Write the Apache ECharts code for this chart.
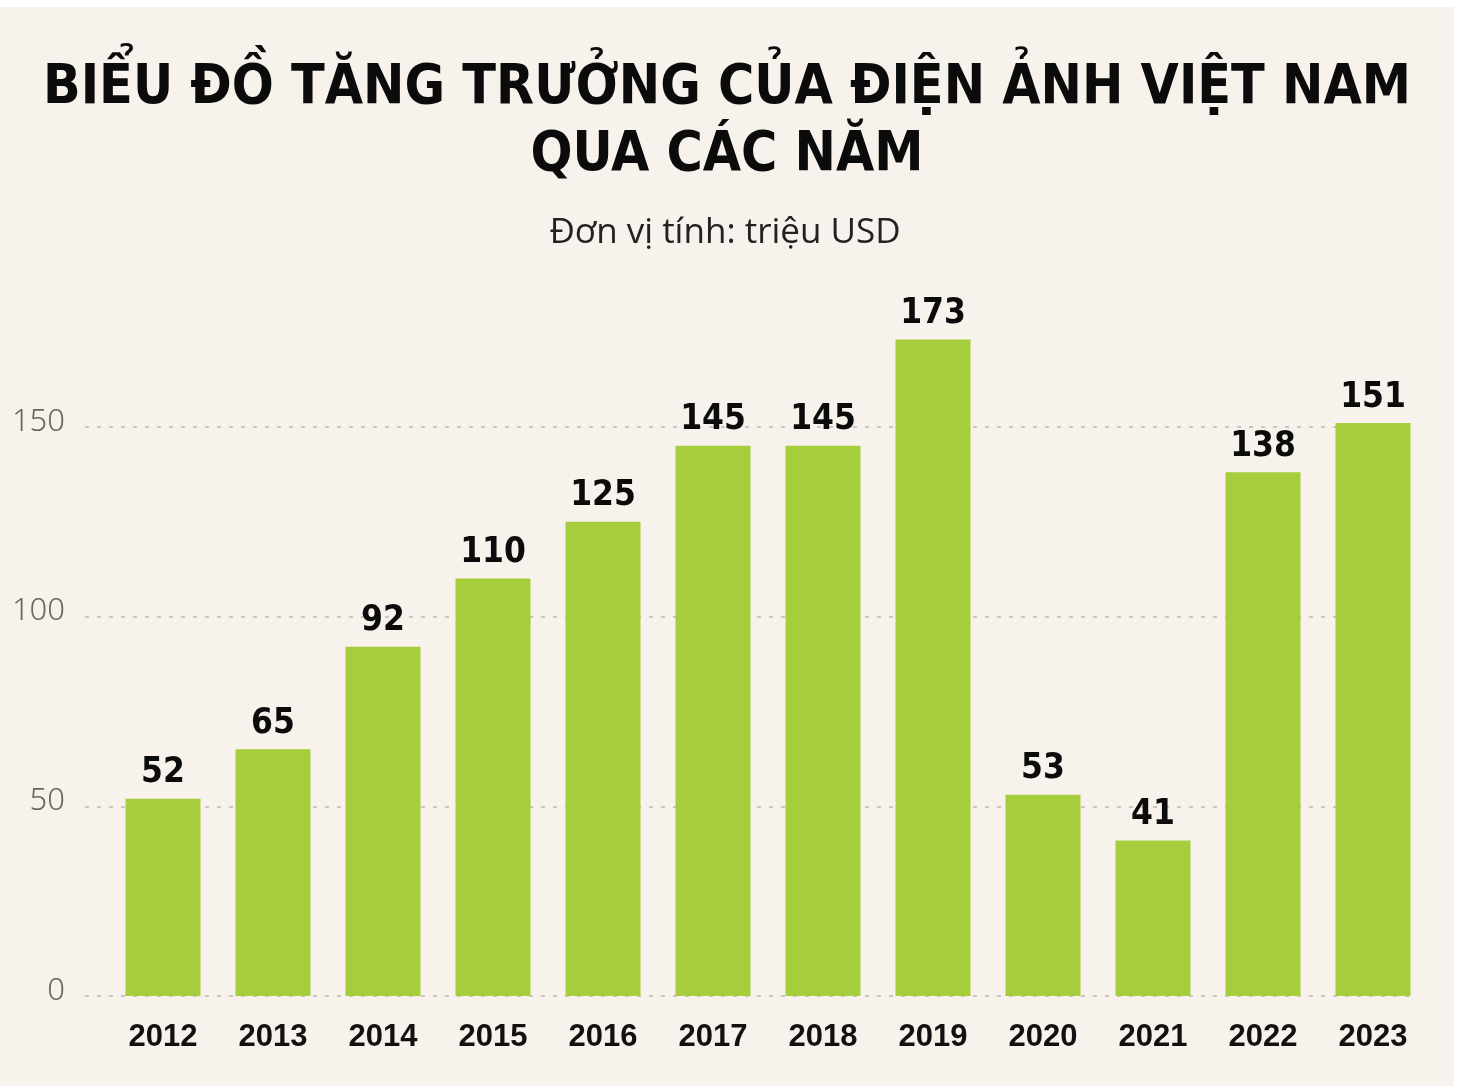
<!DOCTYPE html>
<html>
<head>
<meta charset="utf-8">
<script src="https://cdn.jsdelivr.net/npm/echarts@6/dist/echarts.min.js"></script>
<style>
  html, body { margin: 0; padding: 0; background: #ffffff; }
  #panel { position: absolute; left: 0; top: 7px; width: 1454px; height: 1079px; background: #f7f2eb; }
  #chart { position: absolute; left: 0; top: 0; width: 1460px; height: 1092px; }
</style>
</head>
<body>
<div id="panel"></div>
<div id="chart"></div>
<script>
const titleLine1 = 'BIỂU ĐỒ TĂNG TRƯỞNG CỦA ĐIỆN ẢNH VIỆT NAM';
const titleLine2 = 'QUA CÁC NĂM';
const subtitle = 'Đơn vị tính: triệu USD';
const years = ['2012', '2013', '2014', '2015', '2016', '2017', '2018', '2019', '2020', '2021', '2022', '2023'];
const revenue = [52, 65, 92, 110, 125, 145, 145, 173, 53, 41, 138, 151];
const yMin = 0;
const yMax = 200;
const yStep = 50;

const chart = echarts.init(document.getElementById('chart'), null, { renderer: 'canvas' });
chart.setOption({
  backgroundColor: 'transparent',
  animation: false,
  title: [
    {
      text: titleLine1 + '\n' + titleLine2,
      left: 722,
      top: 50,
      textAlign: 'center',
      textStyle: {
        fontFamily: 'DejaVu Sans Condensed',
        fontWeight: 'bold',
        fontSize: 55,
        lineHeight: 67,
        color: '#0b0b0b'
      }
    },
    {
      text: subtitle,
      left: 720,
      top: 211,
      textAlign: 'center',
      textStyle: {
        fontFamily: 'Open Sans',
        fontWeight: 'normal',
        fontSize: 35,
        color: '#222222'
      }
    }
  ],
  grid: [
    { left: 85, right: 49, top: 237, bottom: 96 },
    { left: 108, right: 32, top: 237, bottom: 96 }
  ],
  xAxis: [
    { type: 'category', gridIndex: 0, data: years, show: false },
    {
      type: 'category', gridIndex: 1, data: years,
      axisLine: { show: false },
      axisTick: { show: false },
      axisLabel: {
        margin: 26,
        fontFamily: 'Liberation Sans',
        fontWeight: 'bold',
        fontSize: 31,
        color: '#111111'
      }
    }
  ],
  yAxis: [
    {
      type: 'value', gridIndex: 0, min: yMin, max: yMax, interval: yStep,
      axisLine: { show: false },
      axisTick: { show: false },
      axisLabel: {
        showMaxLabel: false,
        margin: 20,
        fontFamily: 'Noto Sans',
        fontWeight: 300,
        fontSize: 31,
        color: '#6a665f',
        verticalAlign: 'bottom',
        lineHeight: 10
      },
      splitLine: {
        show: true,
        showMaxLine: false,
        lineStyle: { color: '#bdb8b1', width: 1.5, type: [4, 8] }
      }
    },
    {
      type: 'value', gridIndex: 1, min: yMin, max: yMax, interval: yStep,
      show: false,
      splitLine: { show: false }
    }
  ],
  series: [
    {
      type: 'bar',
      xAxisIndex: 1,
      yAxisIndex: 1,
      data: revenue,
      barWidth: 75,
      itemStyle: { color: '#a5cd3c' },
      label: {
        show: true,
        position: 'top',
        distance: 8,
        fontFamily: 'DejaVu Sans Condensed',
        fontWeight: 'bold',
        fontSize: 35,
        color: '#0b0b0b'
      }
    }
  ]
});
</script>
</body>
</html>
